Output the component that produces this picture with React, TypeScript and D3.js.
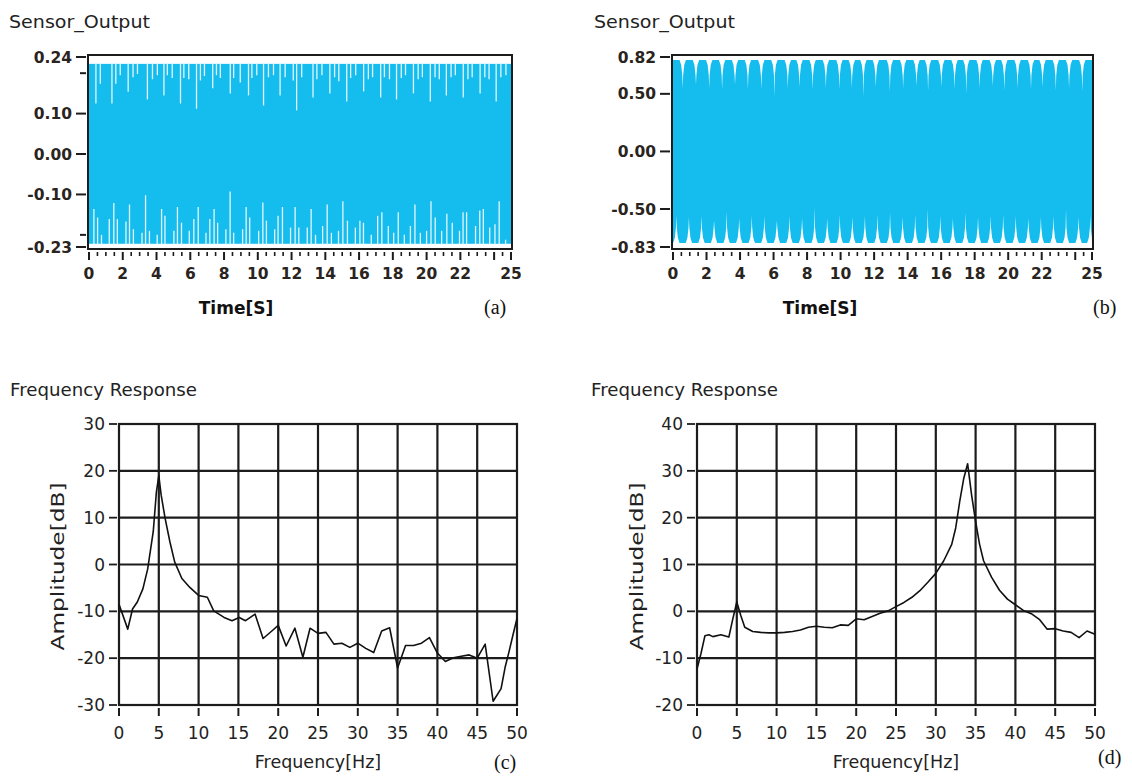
import React from 'react';
import * as d3 from 'd3';

const W = 1132;
const H = 777;
const BLUE = '#14bdee';
const INK = '#1c1c1c';

// ---------- (a) Sensor_Output, small amplitude ----------
const aYTicks = [0.24, 0.1, 0.0, -0.1, -0.23];
const aYLabels = ['0.24', '0.10', '0.00', '-0.10', '-0.23'];
const aYMinor = [0.2, -0.2];
const timeLabels = [0, 2, 4, 6, 8, 10, 12, 14, 16, 18, 20, 22, 25];
const aTopBase = 0.223;
const aBotBase = -0.222;
// spikes hanging down from the upper edge: time [s], value reached
const aTopSpikeT = [0.41, 0.67, 1.36, 1.59, 1.85, 2.32, 2.61, 2.87, 3.46, 3.76, 4.05, 4.44, 4.64, 4.93, 5.42, 5.62, 5.91, 6.37, 6.6, 6.84, 7.33, 7.55, 7.78, 8.37, 8.57, 8.96, 9.45, 9.65, 9.94, 10.34, 10.63, 10.93, 11.32, 11.62, 12.1, 12.3, 12.6, 13.27, 13.5, 13.8, 14.27, 14.55, 14.8, 15.27, 15.5, 15.8, 16.27, 16.55, 16.8, 17.28, 17.5, 17.8, 18.22, 18.5, 18.75, 19.22, 19.5, 19.75, 20.22, 20.5, 20.75, 21.17, 21.45, 21.7, 22.17, 22.45, 22.7, 23.17, 23.45, 23.7, 24.12, 24.4, 24.7];
const aTopSpikeV = [0.125, 0.174, 0.125, 0.174, 0.195, 0.154, 0.19, 0.198, 0.135, 0.185, 0.195, 0.145, 0.195, 0.188, 0.125, 0.188, 0.185, 0.112, 0.182, 0.193, 0.163, 0.195, 0.188, 0.15, 0.188, 0.177, 0.145, 0.188, 0.195, 0.12, 0.19, 0.195, 0.145, 0.19, 0.182, 0.108, 0.19, 0.14, 0.185, 0.195, 0.15, 0.19, 0.18, 0.13, 0.188, 0.195, 0.155, 0.185, 0.19, 0.14, 0.19, 0.185, 0.135, 0.188, 0.195, 0.15, 0.185, 0.19, 0.13, 0.19, 0.185, 0.145, 0.19, 0.195, 0.14, 0.185, 0.19, 0.15, 0.19, 0.185, 0.13, 0.19, 0.195];
// spikes rising from the lower edge
const aBotSpikeT = [0.29, 0.51, 0.74, 1.2, 1.47, 1.68, 2.19, 2.4, 2.63, 3.14, 3.35, 3.58, 4.04, 4.3, 4.5, 5.03, 5.24, 5.48, 5.94, 6.21, 6.47, 6.93, 7.16, 7.41, 7.62, 8.11, 8.36, 8.57, 9.1, 9.31, 9.52, 10.05, 10.3, 10.51, 11.0, 11.2, 11.46, 11.94, 12.21, 12.43, 12.93, 13.16, 13.42, 13.84, 14.11, 14.36, 14.78, 15.04, 15.31, 15.78, 16.05, 16.26, 16.72, 17.1, 17.35, 17.73, 18.05, 18.32, 18.68, 19.04, 19.31, 19.63, 20.0, 20.26, 20.51, 20.89, 21.2, 21.52, 21.95, 22.16, 22.37, 22.9, 23.15, 23.36, 23.74, 24.05, 24.3, 24.68];
const aBotSpikeV = [-0.136, -0.157, -0.2, -0.161, -0.121, -0.161, -0.167, -0.125, -0.186, -0.195, -0.102, -0.19, -0.2, -0.136, -0.153, -0.19, -0.131, -0.17, -0.19, -0.161, -0.131, -0.195, -0.161, -0.136, -0.17, -0.186, -0.093, -0.195, -0.186, -0.131, -0.157, -0.19, -0.12, -0.165, -0.186, -0.153, -0.131, -0.182, -0.131, -0.182, -0.182, -0.136, -0.2, -0.178, -0.125, -0.195, -0.19, -0.117, -0.165, -0.182, -0.165, -0.17, -0.2, -0.153, -0.144, -0.178, -0.195, -0.144, -0.2, -0.178, -0.125, -0.195, -0.19, -0.117, -0.157, -0.19, -0.148, -0.17, -0.19, -0.144, -0.144, -0.178, -0.14, -0.136, -0.182, -0.174, -0.117, -0.212];

// ---------- (b) Sensor_Output, large amplitude ----------
const bYTicks = [0.82, 0.5, 0.0, -0.5, -0.83];
const bYLabels = ['0.82', '0.50', '0.00', '-0.50', '-0.83'];
const bPeak = 0.795;
const bTopNotchT = [0.58, 1.37, 2.16, 2.93, 3.7, 4.47, 5.27, 6.05, 6.85, 7.55, 8.33, 9.12, 9.93, 10.67, 11.36, 12.1, 12.94, 13.73, 14.53, 15.22, 16.01, 16.8, 17.5, 18.29, 19.08, 19.77, 20.56, 21.36, 22.05, 22.84, 23.63, 24.42];
const bTopNotchV = [0.55, 0.58, 0.55, 0.54, 0.58, 0.54, 0.54, 0.48, 0.55, 0.56, 0.54, 0.55, 0.54, 0.55, 0.48, 0.56, 0.52, 0.55, 0.57, 0.53, 0.56, 0.54, 0.5, 0.55, 0.57, 0.53, 0.55, 0.54, 0.56, 0.53, 0.55, 0.52];
const bBotNotchT = [0.2, 0.95, 1.7, 2.45, 3.2, 3.95, 4.7, 5.45, 6.2, 6.95, 7.7, 8.45, 9.2, 9.95, 10.7, 11.45, 12.2, 12.95, 13.7, 14.45, 15.2, 15.95, 16.7, 17.45, 18.2, 18.95, 19.7, 20.45, 21.2, 21.95, 22.7, 23.45, 24.2, 24.9];
const bBotNotchV = [-0.56, -0.57, -0.56, -0.6, -0.52, -0.58, -0.56, -0.56, -0.6, -0.56, -0.58, -0.49, -0.58, -0.55, -0.57, -0.56, -0.55, -0.53, -0.57, -0.55, -0.5, -0.56, -0.58, -0.53, -0.57, -0.56, -0.55, -0.56, -0.58, -0.57, -0.56, -0.5, -0.57, -0.56];

// ---------- (c) Frequency Response ----------
const cFreq = [0, 1.1, 1.7, 2.3, 3.0, 3.6, 4.3, 4.7, 5.0, 5.3, 5.8, 6.4, 7.0, 7.9, 8.9, 10, 11.1, 11.9, 13.2, 14.2, 15.1, 15.9, 17.1, 18.1, 19.2, 20, 21, 22.1, 23.1, 24, 25, 26, 27, 28, 29, 30, 31, 32, 33, 34, 35, 36, 37, 38, 39, 40, 41, 42, 43, 44, 45, 46, 47, 48, 48.5, 49, 49.5, 50];
const cAmp = [-8.5, -13.8, -9.5, -8, -5.2, -1, 7, 15.5, 19, 14.8, 9.8, 4.8, 0.5, -3, -4.9, -6.6, -7, -9.9, -11.3, -12, -11.3, -12, -10.6, -15.8, -14.2, -13, -17.4, -13.6, -19.8, -13.6, -14.7, -14.5, -17, -16.8, -17.7, -16.8, -17.9, -18.8, -14.2, -13.5, -22.1, -17.3, -17.3, -16.8, -15.6, -18.9, -20.7, -19.9, -19.6, -19.3, -20, -17, -29.2, -26.5, -22, -18.6, -15, -11.5];
const cYTicks = [30, 20, 10, 0, -10, -20, -30];

// ---------- (d) Frequency Response ----------
const dFreq = [0, 0.5, 1, 1.5, 2, 3, 4, 4.5, 5, 5.5, 6, 7, 8, 9, 10, 11, 12, 13, 14, 15, 16, 17, 18, 19, 20, 21, 22, 23, 24, 25, 26, 27, 28, 29, 30, 31, 32, 32.5, 33, 33.5, 34, 34.5, 35, 35.5, 36, 37, 38, 39, 40, 41, 42, 43, 44, 45, 46, 47, 48, 49, 50];
const dAmp = [-12.3, -9, -5.2, -5, -5.4, -5, -5.5, -1.6, 2, -0.9, -3.4, -4.3, -4.5, -4.6, -4.6, -4.5, -4.3, -4, -3.4, -3.2, -3.4, -3.5, -2.9, -3, -1.6, -1.8, -1.1, -0.4, 0.1, 1, 1.9, 3, 4.4, 6.2, 8.1, 10.8, 14.3, 17.8, 23.4, 28.3, 31.5, 24.8, 19.2, 14.3, 10.8, 7.3, 4.5, 2.6, 1.4, 0.2, -0.5, -1.7, -3.8, -3.7, -4.2, -4.5, -5.6, -4.2, -4.9];
const dYTicks = [40, 30, 20, 10, 0, -10, -20];
const freqTicks = [0, 5, 10, 15, 20, 25, 30, 35, 40, 45, 50];

const SANS = 'DejaVu Sans, Verdana, sans-serif';
const SERIF = 'Liberation Serif, Times New Roman, serif';

type TimeProps = {
  left: number; right: number; top: number; bottom: number;
  y: d3.ScaleLinear<number, number>;
  yTicks: number[]; yLabels: string[]; yMinor: number[];
  titleX: number; tag: string; tagX: number; timeLabelX: number;
  children: React.ReactNode;
};

function TimeFrame(p: TimeProps) {
  const x = d3.scaleLinear().domain([0, 25]).range([p.left + 1, p.right - 1]);
  const minor = d3.range(0, 25.001, 0.5);
  return (
    <g>
      <text x={p.titleX} y={28} fontFamily={SANS} fontSize={18} textLength={141} lengthAdjust="spacingAndGlyphs" fill="#222">Sensor_Output</text>
      {p.children}
      <rect x={p.left} y={p.top} width={p.right - p.left} height={p.bottom - p.top} fill="none" stroke={INK} strokeWidth={2} />
      {p.yTicks.map((v, i) => (
        <g key={'yt' + i}>
          <line x1={p.left - 12} x2={p.left - 2} y1={p.y(v)} y2={p.y(v)} stroke={INK} strokeWidth={2} />
          <text x={p.left - 16} y={p.y(v) + 5.5} textAnchor="end" fontFamily={SANS} fontWeight="bold" fontSize={15.5} fill="#2a2420">{p.yLabels[i]}</text>
        </g>
      ))}
      {p.yMinor.map((v, i) => (
        <line key={'ym' + i} x1={p.left - 8} x2={p.left - 2} y1={p.y(v)} y2={p.y(v)} stroke={INK} strokeWidth={2} />
      ))}
      {minor.map((t, i) => {
        const major = Math.abs(t - Math.round(t / 2) * 2) < 1e-6 || t === 25;
        return <line key={'xm' + i} x1={x(t)} x2={x(t)} y1={p.bottom + 3} y2={p.bottom + (major ? 11 : 7)} stroke={INK} strokeWidth={major ? 2 : 1.6} />;
      })}
      {timeLabels.map((t) => (
        <text key={'xl' + t} x={x(t)} y={279} textAnchor="middle" fontFamily={SANS} fontWeight="bold" fontSize={15.5} fill="#2a2420">{t}</text>
      ))}
      <text x={p.timeLabelX} y={314} textAnchor="middle" fontFamily={SANS} fontWeight="bold" fontSize={17} fill="#111">Time[S]</text>
      <text x={p.tagX} y={314} fontFamily={SERIF} fontSize={20} fill="#111">{p.tag}</text>
    </g>
  );
}

function PanelA() {
  const left = 88, right = 512, top = 55, bottom = 249;
  const x = d3.scaleLinear().domain([0, 25]).range([left + 1, right - 1]);
  const y = d3.scaleLinear().domain([-0.23, 0.24]).range([247, 57]);
  return (
    <TimeFrame left={left} right={right} top={top} bottom={bottom} y={y} yTicks={aYTicks} yLabels={aYLabels} yMinor={aYMinor}
      titleX={9} tag="(a)" tagX={484} timeLabelX={236}>
      <rect x={x(0)} y={y(aTopBase)} width={x(25) - x(0)} height={y(aBotBase) - y(aTopBase)} fill={BLUE} />
      {aTopSpikeT.map((t, i) => (
        <line key={'ts' + i} x1={x(t)} x2={x(t)} y1={y(aTopBase) - 1} y2={y(aTopSpikeV[i])} stroke="#e4f6fd" strokeWidth={1.3} />
      ))}
      {aBotSpikeT.map((t, i) => (
        <line key={'bs' + i} x1={x(t)} x2={x(t)} y1={y(aBotBase) + 1} y2={y(aBotSpikeV[i])} stroke="#e4f6fd" strokeWidth={1.3} />
      ))}
    </TimeFrame>
  );
}

function envelope(ts: number[], vs: number[], peak: number, sign: number): [number, number][] {
  const pts: [number, number][] = [[0, peak]];
  ts.forEach((t, i) => {
    const v = vs[i];
    const mid = sign * 0.66;
    const sh = sign * 0.75;
    const cand: [number, number][] = [
      [t - 0.19, peak], [t - 0.09, sh], [t - 0.025, mid], [t, v], [t + 0.025, mid], [t + 0.09, sh], [t + 0.19, peak],
    ];
    cand.forEach((c) => { if (c[0] > 0 && c[0] < 25) pts.push(c); });
  });
  pts.push([25, peak]);
  return pts;
}

function PanelB() {
  const left = 672, right = 1093, top = 55, bottom = 249;
  const x = d3.scaleLinear().domain([0, 25]).range([left + 1, right - 1]);
  const y = d3.scaleLinear().domain([-0.83, 0.82]).range([247, 57]);
  const upper = envelope(bTopNotchT, bTopNotchV, bPeak, 1);
  const lower = envelope(bBotNotchT, bBotNotchV, -bPeak, -1);
  const line = d3.line<[number, number]>().x((d) => x(d[0])).y((d) => y(d[1]));
  const path = (line(upper) || '') + 'L' + (line(lower.slice().reverse()) || '').slice(1) + 'Z';
  return (
    <TimeFrame left={left} right={right} top={top} bottom={bottom} y={y} yTicks={bYTicks} yLabels={bYLabels} yMinor={[]}
      titleX={594} tag="(b)" tagX={1093} timeLabelX={820}>
      <path d={path} fill={BLUE} />
    </TimeFrame>
  );
}

type FreqProps = {
  left: number; right: number; top: number; bottom: number;
  yDomain: [number, number]; yTicks: number[];
  freq: number[]; amp: number[];
  titleX: number; ampLabelX: number; tag: string; tagX: number; tagY: number;
};

function FreqPanel(p: FreqProps) {
  const x = d3.scaleLinear().domain([0, 50]).range([p.left, p.right]);
  const y = d3.scaleLinear().domain(p.yDomain).range([p.bottom, p.top]);
  const line = d3.line<number>().x((_, i) => x(p.freq[i])).y((d) => y(d));
  const cx = (p.left + p.right) / 2;
  const cy = (p.top + p.bottom) / 2;
  return (
    <g>
      <text x={p.titleX} y={396} fontFamily={SANS} fontSize={18} textLength={187} lengthAdjust="spacingAndGlyphs" fill="#222">Frequency Response</text>
      {freqTicks.slice(1, -1).map((f) => (
        <line key={'gv' + f} x1={x(f)} x2={x(f)} y1={p.top} y2={p.bottom} stroke={INK} strokeWidth={2.2} />
      ))}
      {p.yTicks.slice(1, -1).map((v) => (
        <line key={'gh' + v} x1={p.left} x2={p.right} y1={y(v)} y2={y(v)} stroke={INK} strokeWidth={2.2} />
      ))}
      <rect x={p.left} y={p.top} width={p.right - p.left} height={p.bottom - p.top} fill="none" stroke={INK} strokeWidth={2.2} />
      <path d={line(p.amp) || ''} fill="none" stroke="#111" strokeWidth={1.6} strokeLinejoin="round" />
      {p.yTicks.map((v) => (
        <g key={'yt' + v}>
          <line x1={p.left - 10} x2={p.left - 2} y1={y(v)} y2={y(v)} stroke={INK} strokeWidth={1.8} />
          <text x={p.left - 14} y={y(v) + 6} textAnchor="end" fontFamily={SANS} fontSize={17} fill="#222">{v}</text>
        </g>
      ))}
      {freqTicks.map((f) => (
        <g key={'xt' + f}>
          <line x1={x(f)} x2={x(f)} y1={p.bottom + 3} y2={p.bottom + 11} stroke={INK} strokeWidth={2} />
          <text x={x(f)} y={739} textAnchor="middle" fontFamily={SANS} fontSize={17} fill="#222">{f}</text>
        </g>
      ))}
      <text x={cx} y={768} textAnchor="middle" fontFamily={SANS} fontSize={17.5} fill="#222">Frequency[Hz]</text>
      <text transform={`translate(${p.ampLabelX},${cy + 2}) rotate(-90)`} textAnchor="middle" fontFamily={SANS} fontSize={18} textLength={168} lengthAdjust="spacingAndGlyphs" fill="#222">Amplitude[dB]</text>
      <text x={p.tagX} y={p.tagY} fontFamily={SERIF} fontSize={20} fill="#111">{p.tag}</text>
    </g>
  );
}

export default function App() {
  return (
    <svg width={W} height={H} viewBox={`0 0 ${W} ${H}`} style={{ position: 'absolute', left: 0, top: 0, background: '#fff' }}>
      <rect x={0} y={0} width={W} height={H} fill="#fff" />
      <PanelA />
      <PanelB />
      <FreqPanel left={119} right={517} top={424} bottom={705} yDomain={[-30, 30]} yTicks={cYTicks}
        freq={cFreq} amp={cAmp} titleX={10} ampLabelX={64} tag="(c)" tagX={494} tagY={769} />
      <FreqPanel left={697} right={1095} top={424} bottom={705} yDomain={[-20, 40]} yTicks={dYTicks}
        freq={dFreq} amp={dAmp} titleX={591} ampLabelX={643} tag="(d)" tagX={1098} tagY={764} />
    </svg>
  );
}
